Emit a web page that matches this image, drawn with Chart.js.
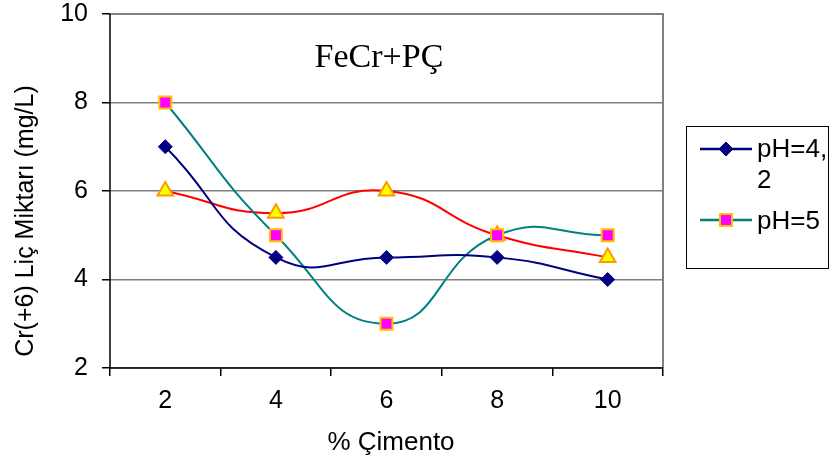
<!DOCTYPE html>
<html>
<head>
<meta charset="utf-8">
<script src="https://cdn.jsdelivr.net/npm/chart.js@4.4.1/dist/chart.umd.min.js"></script>
<style>
  html, body { margin: 0; padding: 0; background: #fff; }
  #wrap { width: 833px; height: 468px; }
</style>
</head>
<body>
<div id="wrap"><canvas id="cimentoChart"></canvas></div>
<script>
const cimento = ['2', '4', '6', '8', '10'];
const ph42 = [7, 4.5, 4.5, 4.5, 4];
const ph5 = [8, 5, 3, 5, 5];
const seri3 = [6, 5.5, 6, 5, 4.5];
const yTicks = [2, 4, 6, 8, 10];

const SANS = "'Liberation Sans', Arial, sans-serif";

// plot frame, caption, axis titles and the boxed legend on the right
const frameAndLegend = {
  id: 'frameAndLegend',
  beforeDatasetsDraw(chart) {
    const ctx = chart.ctx;
    const a = chart.chartArea;
    ctx.save();
    ctx.strokeStyle = '#808080';
    ctx.lineWidth = 2;
    ctx.beginPath();
    ctx.moveTo(a.left, a.top);
    ctx.lineTo(a.right, a.top);
    ctx.lineTo(a.right, a.bottom);
    ctx.stroke();
    ctx.strokeStyle = '#000';
    ctx.lineWidth = 1.5;
    ctx.beginPath();
    ctx.moveTo(a.left, a.top);
    ctx.lineTo(a.left, a.bottom);
    ctx.lineTo(a.right, a.bottom);
    ctx.stroke();

    ctx.fillStyle = '#000';
    ctx.font = "34px 'Liberation Serif', 'Times New Roman', serif";
    ctx.textAlign = 'center';
    ctx.textBaseline = 'alphabetic';
    ctx.fillText('FeCr+PÇ', 379, 67);

    ctx.font = '26px ' + SANS;
    ctx.textBaseline = 'middle';
    ctx.fillText('% Çimento', 391, 443);

    ctx.translate(26, 221);
    ctx.rotate(-Math.PI / 2);
    ctx.font = '25px ' + SANS;
    ctx.fillText('Cr(+6) Liç Miktarı (mg/L)', 0, 0);
    ctx.restore();
  },
  afterDraw(chart) {
    const ctx = chart.ctx;
    ctx.save();
    ctx.strokeStyle = '#000';
    ctx.lineWidth = 1;
    ctx.strokeRect(686.5, 126.5, 142, 142);

    const items = [
      { ds: 0, y: 149, base: 157, lines: ['pH=4,', '2'] },
      { ds: 1, y: 220, base: 229, lines: ['pH=5'] }
    ];
    items.forEach(it => {
      const d = chart.data.datasets[it.ds];
      ctx.strokeStyle = d.borderColor;
      ctx.lineWidth = 2.5;
      ctx.beginPath();
      ctx.moveTo(700, it.y);
      ctx.lineTo(752, it.y);
      ctx.stroke();
      ctx.fillStyle = d.pointBackgroundColor;
      ctx.strokeStyle = d.pointBorderColor;
      ctx.lineWidth = d.pointBorderWidth;
      Chart.helpers.drawPoint(ctx, {
        pointStyle: d.pointStyle,
        radius: d.pointRadius,
        borderWidth: d.pointBorderWidth,
        rotation: 0
      }, 726, it.y);
      ctx.fillStyle = '#000';
      ctx.font = '26px ' + SANS;
      ctx.textAlign = 'left';
      ctx.textBaseline = 'alphabetic';
      it.lines.forEach((t, i) => ctx.fillText(t, 757, it.base + i * 31));
    });
    ctx.restore();
  }
};

new Chart(document.getElementById('cimentoChart'), {
  type: 'line',
  data: {
    labels: cimento,
    datasets: [
      {
        label: 'pH=4,2',
        data: ph42,
        borderColor: '#000080',
        borderWidth: 2,
        pointStyle: 'rectRot',
        pointRadius: 7,
        pointBackgroundColor: '#000080',
        pointBorderColor: '#000080',
        pointBorderWidth: 1,
        tension: 0.5
      },
      {
        label: 'pH=5',
        data: ph5,
        borderColor: '#008080',
        borderWidth: 2,
        pointStyle: 'rect',
        pointRadius: 8.5,
        pointBackgroundColor: '#FF00FF',
        pointBorderColor: '#FFC000',
        pointBorderWidth: 2,
        tension: 0.5
      },
      {
        label: 'Seri 3',
        data: seri3,
        borderColor: '#FF0000',
        borderWidth: 2,
        pointStyle: 'triangle',
        pointRadius: 9,
        pointBackgroundColor: '#FFFF00',
        pointBorderColor: '#FF9900',
        pointBorderWidth: 2,
        tension: 0.5
      }
    ]
  },
  options: {
    responsive: true,
    maintainAspectRatio: false,
    animation: false,
    layout: { padding: { left: 0, top: 14, right: 170, bottom: 0 } },
    plugins: {
      legend: { display: false },
      tooltip: { enabled: false }
    },
    scales: {
      x: {
        offset: true,
        afterFit(scale) { scale.height = 100; },
        grid: {
          offset: true,
          drawOnChartArea: false,
          color: '#000',
          lineWidth: 1.5,
          tickLength: 8
        },
        border: { display: false },
        ticks: {
          color: '#000',
          padding: 10,
          font: { family: SANS, size: 25 }
        }
      },
      y: {
        min: 2,
        max: 10,
        afterFit(scale) {
          scale.width = 110;
          scale.paddingTop = 0;
          scale.paddingBottom = 0;
        },
        afterBuildTicks(scale) { scale.ticks = yTicks.map(v => ({ value: v })); },
        grid: {
          color: '#808080',
          lineWidth: 1.5,
          tickLength: 8,
          tickColor: '#000'
        },
        border: { display: false },
        ticks: {
          color: '#000',
          padding: 14,
          font: { family: SANS, size: 25 }
        }
      }
    }
  },
  plugins: [frameAndLegend]
});
</script>
</body>
</html>
